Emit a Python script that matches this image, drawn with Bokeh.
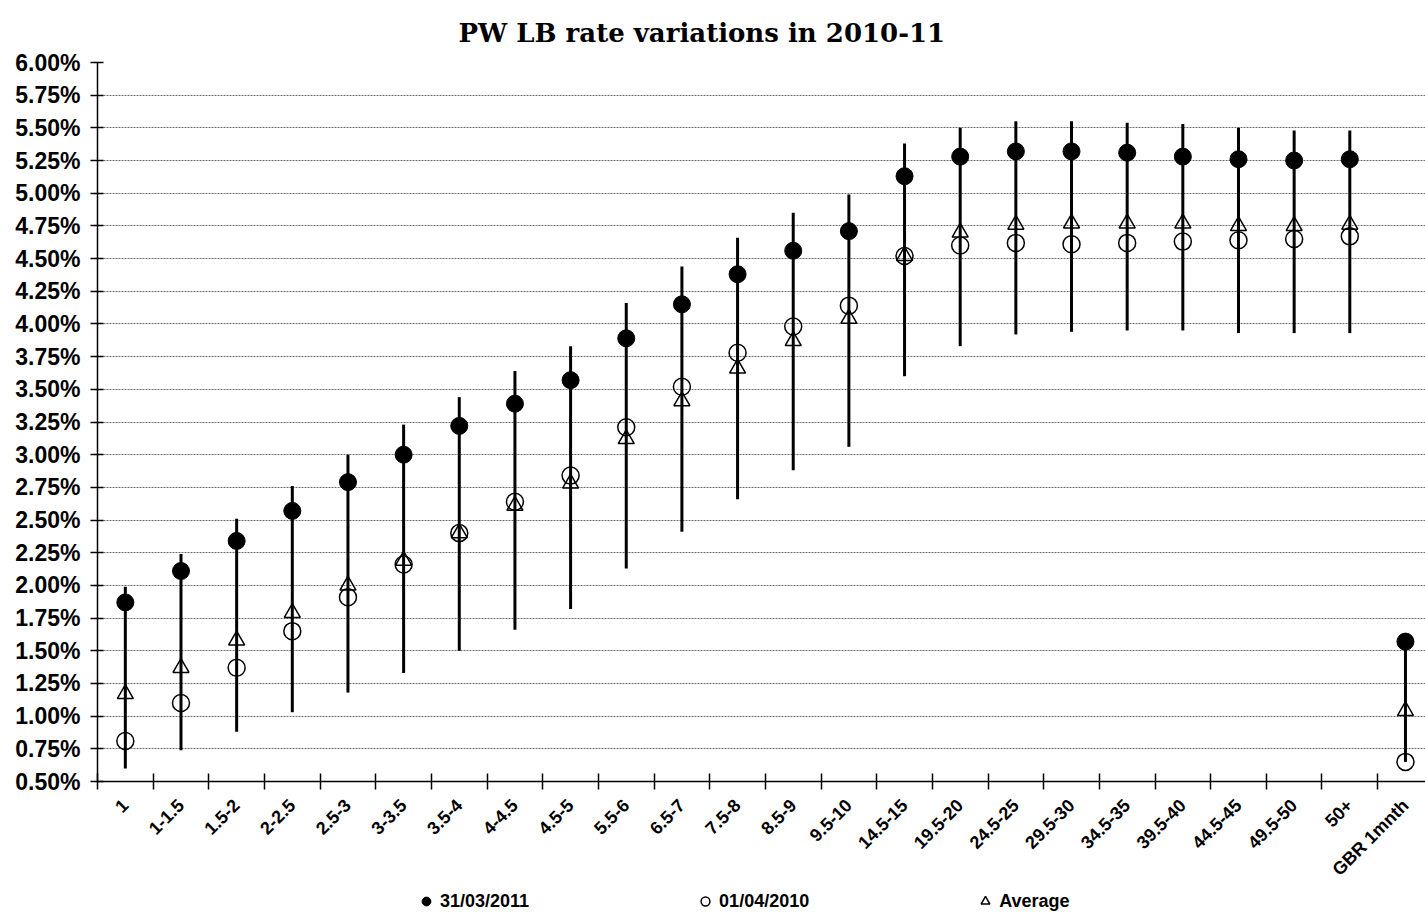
import math
from bokeh.plotting import figure
from bokeh.layouts import column
from bokeh.models import (Range1d, FixedTicker, SingleIntervalTicker, PrintfTickFormatter,
                          Legend, LegendItem, ColumnDataSource)
from bokeh.embed import file_html
from bokeh.resources import INLINE

categories = ["1", "1-1.5", "1.5-2", "2-2.5", "2.5-3", "3-3.5", "3.5-4", "4-4.5", "4.5-5",
              "5.5-6", "6.5-7", "7.5-8", "8.5-9", "9.5-10", "14.5-15", "19.5-20", "24.5-25",
              "29.5-30", "34.5-35", "39.5-40", "44.5-45", "49.5-50", "50+", "GBR 1mnth"]
rate_2011 = [1.87, 2.11, 2.34, 2.57, 2.79, 3.00, 3.22, 3.39, 3.57, 3.89, 4.15, 4.38, 4.56, 4.71,
             5.13, 5.28, 5.32, 5.32, 5.31, 5.28, 5.26, 5.25, 5.26, 1.57]
rate_2010 = [0.81, 1.10, 1.37, 1.65, 1.91, 2.16, 2.40, 2.64, 2.84, 3.21, 3.52, 3.78, 3.98, 4.14,
             4.52, 4.60, 4.62, 4.61, 4.62, 4.63, 4.64, 4.65, 4.67, 0.65]
average = [1.17, 1.37, 1.58, 1.79, 2.00, 2.19, 2.40, 2.61, 2.78, 3.12, 3.41, 3.66, 3.87, 4.04,
           4.52, 4.70, 4.76, 4.77, 4.77, 4.77, 4.75, 4.75, 4.76, 1.04]
high = [1.99, 2.24, 2.51, 2.76, 3.00, 3.23, 3.44, 3.64, 3.83, 4.16, 4.44, 4.66, 4.85, 4.99,
        5.38, 5.50, 5.55, 5.55, 5.54, 5.53, 5.50, 5.48, 5.48, 1.57]
low = [0.60, 0.74, 0.88, 1.03, 1.18, 1.33, 1.50, 1.66, 1.82, 2.13, 2.41, 2.66, 2.88, 3.06,
       3.60, 3.83, 3.92, 3.94, 3.95, 3.95, 3.93, 3.93, 3.93, 0.65]
series_names = ["31/03/2011", "01/04/2010", "Average"]

n = len(categories)
xs = [i + 0.5 for i in range(n)]
bounds = list(range(n + 1))

src = ColumnDataSource(dict(x=xs, cat=categories, r11=rate_2011, r10=rate_2010,
                            avg=average, hi=high, lo=low))

FONT = "Liberation Sans"

p = figure(width=1425, height=890, output_backend="svg", toolbar_location=None,
           x_range=Range1d(0, 23.86), y_range=Range1d(0.5, 6.0),
           min_border_left=97, min_border_right=0, min_border_top=62, min_border_bottom=109,
           background_fill_color="white", border_fill_color="white")
p.outline_line_color = None

p.title.text = "PW LB rate variations in 2010-11"
p.title.text_font = "DejaVu Serif"
p.title.text_font_style = "bold"
p.title.text_font_size = "26px"
p.title.text_color = "black"
p.title.align = "left"
p.title.offset = 361
p.title.standoff = 30

# y axis
p.yaxis.ticker = SingleIntervalTicker(interval=0.25)
p.yaxis.formatter = PrintfTickFormatter(format="%.2f%%")
p.yaxis.major_label_text_font = FONT
p.yaxis.major_label_text_font_style = "bold"
p.yaxis.major_label_text_font_size = "23px"
p.yaxis.major_label_text_color = "black"
p.yaxis.major_tick_in = 6
p.yaxis.major_tick_out = 7
p.yaxis.major_tick_line_width = 1.5
p.yaxis.minor_tick_line_color = None
p.yaxis.axis_line_width = 1.5
p.yaxis.major_label_standoff = 10

# x axis
p.xaxis.ticker = FixedTicker(ticks=xs, minor_ticks=bounds)
p.xaxis.major_label_overrides = {x: c for x, c in zip(xs, categories)}
p.xaxis.major_tick_line_color = None
p.xaxis.major_tick_in = 0
p.xaxis.major_tick_out = 0
p.xaxis.minor_tick_line_color = "black"
p.xaxis.minor_tick_line_width = 1.5
p.xaxis.minor_tick_in = 8
p.xaxis.minor_tick_out = 8
p.xaxis.axis_line_width = 1.5
p.xaxis.major_label_orientation = math.pi / 4
p.xaxis.major_label_standoff = 13
p.xaxis.major_label_text_font = FONT
p.xaxis.major_label_text_font_style = "bold"
p.xaxis.major_label_text_font_size = "18px"
p.xaxis.major_label_text_color = "black"

p.xgrid.grid_line_color = None
p.ygrid.grid_line_color = "#6e6e6e"
p.ygrid.grid_line_dash = "2 1"
p.ygrid.grid_line_width = 1

p.segment(x0="x", y0="lo", x1="x", y1="hi", source=src, line_color="black", line_width=3)
p.scatter("x", "avg", source=src, marker="triangle", size=16,
          fill_color=None, line_color="black", line_width=1.5)
p.scatter("x", "r10", source=src, marker="circle", size=17,
          fill_color=None, line_color="black", line_width=1.5)
p.scatter("x", "r11", source=src, marker="circle", size=17,
          fill_color="black", line_color="black", line_width=1)

# legend strip below the chart (its own series renderers sit outside its visible range)
q = figure(width=1425, height=22, output_backend="svg", toolbar_location=None, title=None,
           x_range=Range1d(0, 24), y_range=Range1d(-2, -1),
           x_axis_location=None, y_axis_location=None, min_border=0,
           background_fill_color="white", border_fill_color="white")
q.outline_line_color = None
q.grid.visible = False
l11 = q.scatter("x", "r11", source=src, marker="circle", fill_color="black", line_color="black")
l10 = q.scatter("x", "r10", source=src, marker="circle", fill_color=None, line_color="black",
                line_width=1.5)
lav = q.scatter("x", "avg", source=src, marker="triangle", fill_color=None, line_color="black",
                line_width=1.5)
legend = Legend(items=[LegendItem(label=series_names[0], renderers=[l11]),
                       LegendItem(label=series_names[1], renderers=[l10]),
                       LegendItem(label=series_names[2], renderers=[lav])],
                orientation="horizontal", location=(315, 0),
                glyph_width=28, glyph_height=22, label_standoff=0, spacing=162,
                padding=0, margin=0, border_line_color=None, background_fill_alpha=0,
                label_text_font=FONT, label_text_font_style="bold",
                label_text_font_size="18px", label_text_color="black")
q.add_layout(legend)

open("out.html", "w").write(file_html(column(p, q, spacing=0), INLINE))
